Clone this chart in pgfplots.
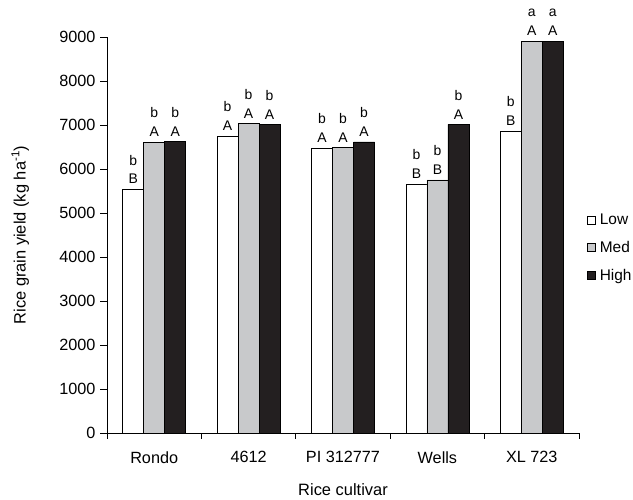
\documentclass[border=0pt]{standalone}
\usepackage{pgfplots}
\pgfplotsset{compat=1.18}
\usepackage{fontspec}
\setmainfont{Liberation Sans}
\definecolor{medgray}{RGB}{200,201,203}
\definecolor{darkbar}{RGB}{35,31,32}
\begin{document}
\begin{tikzpicture}[x=1bp,y=1bp]
\begin{axis}[
  at={(107bp,67bp)}, anchor=south west,
  scale only axis, width=472bp, height=396bp,
  xmin=-0.5, xmax=4.5, ymin=0, ymax=9000,
  axis lines=left, axis line style={-, line width=0.8bp, black},
  ybar=0pt, bar width=21bp,
  xtick={0,...,4}, xticklabels={Rondo,4612,PI 312777,Wells,XL 723},
  major x tick style={draw=none},
  minor xtick={-0.5,0.5,...,4.5},
  minor x tick style={line width=0.8bp, black},
  minor tick length=6bp,
  ytick={0,1000,...,9000},
  major y tick style={line width=0.8bp, black},
  major tick length=7bp,
  tick align=outside,
  scaled y ticks=false,
  /pgf/number format/1000 sep={},
  /pgf/number format/assume math mode=true,
  tick label style={font=\fontsize{16.3}{19}\selectfont},
  xticklabel style={yshift=-8bp},
  yticklabel style={xshift=-1bp},
  every axis y label/.style={at={(rel axis cs:-0.184,0.5)}, rotate=90, anchor=center, font=\fontsize{16.5}{19}\selectfont},
  every axis x label/.style={at={(rel axis cs:0.5,-0.142)}, anchor=center, font=\fontsize{16.5}{19}\selectfont},
  ylabel={Rice grain yield (kg ha\textsuperscript{-1})},
  xlabel={Rice cultivar},
  point meta=explicit symbolic,
  nodes near coords,
  every node near coord/.append style={align=center, font=\fontsize{14}{19}\selectfont, anchor=south, inner sep=0pt, yshift=5bp, text=black},
  legend style={at={(rel axis cs:1.017,0.467)}, anchor=west, draw=none, fill=none, inner sep=0pt,
    font=\fontsize{15.5}{17}\selectfont, row sep=13bp, nodes={inner sep=1bp}},
  legend cell align=left,
  legend image code/.code={\draw[#1, line width=0.6bp] (0bp,-4bp) rectangle (8bp,4bp);},
  legend style={/tikz/every odd column/.append style={column sep=3bp}},
]
\addplot[fill=white, draw=black, line width=0.6bp] coordinates {
  (0,5540) [b\\B] (1,6750) [b\\A] (2,6480) [b\\A] (3,5660) [b\\B] (4,6865) [b\\B]};
\addplot[fill=medgray, draw=black, line width=0.6bp] coordinates {
  (0,6610) [b\\A] (1,7030) [b\\A] (2,6485) [b\\A] (3,5750) [b\\B] (4,8905) [a\\A]};
\addplot[fill=darkbar, draw=black, line width=0.6bp] coordinates {
  (0,6620) [b\\A] (1,7015) [b\\A] (2,6615) [b\\A] (3,7015) [b\\A] (4,8905) [a\\A]};
\legend{Low,Med,High}
\end{axis}
\pgfresetboundingbox
\path (0,0) rectangle (633,500);
\end{tikzpicture}
\end{document}
